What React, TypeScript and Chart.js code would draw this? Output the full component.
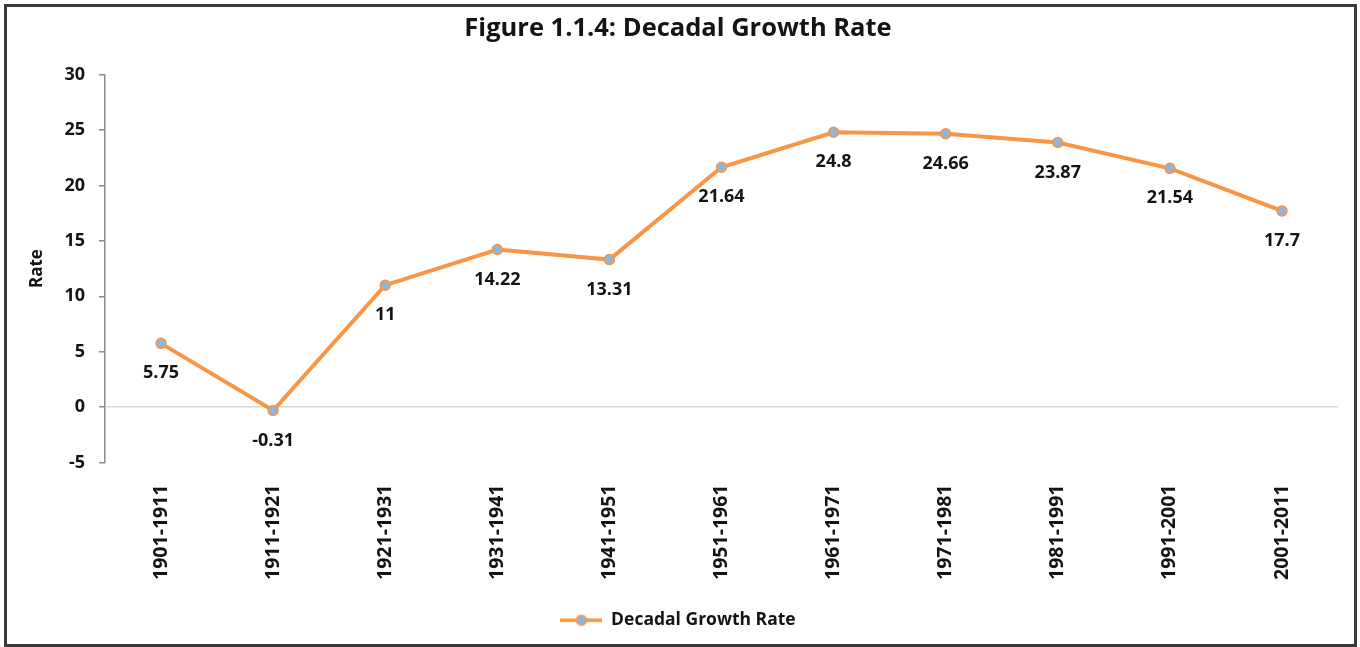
import React, { useEffect, useRef } from "react";
import { Chart, registerables } from "chart.js";

Chart.register(...registerables);

const categories = [
  "1901-1911", "1911-1921", "1921-1931", "1931-1941", "1941-1951", "1951-1961",
  "1961-1971", "1971-1981", "1981-1991", "1991-2001", "2001-2011",
];
const growthRate = [5.75, -0.31, 11, 14.22, 13.31, 21.64, 24.8, 24.66, 23.87, 21.54, 17.7];
const seriesName = "Decadal Growth Rate";
const chartTitle = "Figure 1.1.4: Decadal Growth Rate";
const yTitle = "Rate";
const yMin = -5;
const yMax = 30;
const yStep = 5;

const ORANGE = "#F79646";
const MARKER = "#95B3D7";
const TEXT = "#141414";
const FONT = "'Open Sans', Lato, sans-serif";

function makeLegendIcon(): HTMLCanvasElement {
  const c = document.createElement("canvas");
  c.width = 42;
  c.height = 14;
  const ctx = c.getContext("2d")!;
  ctx.strokeStyle = ORANGE;
  ctx.lineWidth = 3.5;
  ctx.beginPath();
  ctx.moveTo(0, 7);
  ctx.lineTo(42, 7);
  ctx.stroke();
  ctx.beginPath();
  ctx.arc(21, 7, 5, 0, Math.PI * 2);
  ctx.fillStyle = MARKER;
  ctx.fill();
  ctx.lineWidth = 1.5;
  ctx.strokeStyle = ORANGE;
  ctx.stroke();
  return c;
}

const dataLabelPlugin = {
  id: "dataLabelsBelow",
  afterDatasetsDraw(chart: any) {
    const ctx = chart.ctx;
    const meta = chart.getDatasetMeta(0);
    const values = chart.data.datasets[0].data as number[];
    ctx.save();
    ctx.font = `bold 18px ${FONT}`;
    ctx.fillStyle = TEXT;
    ctx.textAlign = "center";
    ctx.textBaseline = "middle";
    meta.data.forEach((pt: any, i: number) => {
      ctx.fillText(String(values[i]), pt.x, pt.y + 30);
    });
    ctx.restore();
  },
};

export default function App() {
  const ref = useRef<HTMLCanvasElement | null>(null);

  useEffect(() => {
    if (!ref.current) return;
    const icon = makeLegendIcon();
    const chart = new Chart(ref.current, {
      type: "line",
      data: {
        labels: categories,
        datasets: [
          {
            label: seriesName,
            data: growthRate,
            borderColor: ORANGE,
            borderWidth: 4,
            backgroundColor: MARKER,
            pointBackgroundColor: MARKER,
            pointBorderColor: ORANGE,
            pointBorderWidth: 1.5,
            pointRadius: 5,
            tension: 0,
            fill: false,
          },
        ],
      },
      options: {
        responsive: false,
        animation: false,
        devicePixelRatio: 1,
        layout: { padding: { left: 18, right: 22, top: 0, bottom: 8 } },
        plugins: {
          title: {
            display: true,
            text: chartTitle,
            color: TEXT,
            font: { family: FONT, size: 25.5, weight: "bold" },
            padding: { top: 13, bottom: 31 },
          },
          legend: {
            display: true,
            position: "bottom",
            labels: {
              usePointStyle: true,
              pointStyle: icon as any,
              pointStyleWidth: 42,
              color: TEXT,
              font: { family: FONT, size: 17.5, weight: "bold" },
              padding: 10,
            },
          },
          tooltip: { enabled: false },
        },
        scales: {
          x: {
            offset: true,
            grid: { display: false, drawTicks: false },
            border: { display: false },
            ticks: {
              minRotation: 90,
              maxRotation: 90,
              autoSkip: false,
              padding: 22,
              color: TEXT,
              font: { family: FONT, size: 19.5, weight: "bold" },
            },
            afterFit(scale: any) {
              scale.height = 139;
            },
          },
          y: {
            min: yMin,
            max: yMax,
            ticks: {
              stepSize: yStep,
              padding: 14,
              color: TEXT,
              font: { family: FONT, size: 18, weight: "bold" },
            },
            grid: {
              drawOnChartArea: true,
              color: (c: any) => (c.tick && c.tick.value === 0 ? "#d9d9d9" : "rgba(0,0,0,0)"),
              lineWidth: 1.5,
              tickColor: "#8c8c8c",
              tickLength: 6,
            },
            border: { display: true, color: "#8c8c8c", width: 1.5 },
            title: {
              display: true,
              text: yTitle,
              color: TEXT,
              font: { family: FONT, size: 17, weight: "bold" },
              padding: { top: 9, bottom: 0 },
            },
            afterFit(scale: any) {
              scale.width = 87;
            },
          },
        },
      },
      plugins: [dataLabelPlugin],
    });
    return () => chart.destroy();
  }, []);

  return (
    <div
      style={{
        position: "fixed",
        left: 0,
        top: 0,
        width: 1360,
        height: 647,
        background: "#fff",
        overflow: "hidden",
      }}
    >
      <canvas ref={ref} width={1360} height={647} style={{ display: "block", width: 1360, height: 647 }} />
      <div
        style={{
          position: "absolute",
          left: 4,
          top: 4,
          width: 1353,
          height: 643,
          border: "3px solid #3a3a3a",
          boxSizing: "border-box",
          pointerEvents: "none",
        }}
      />
    </div>
  );
}
